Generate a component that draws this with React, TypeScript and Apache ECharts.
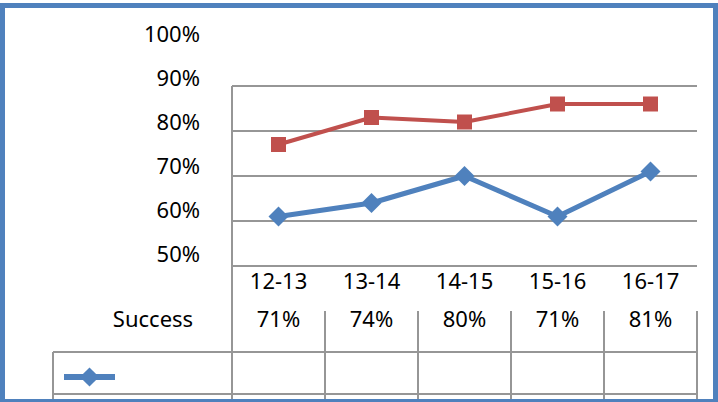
import React, { useEffect, useRef } from "react";
import * as echarts from "echarts";

const categories = ["12-13", "13-14", "14-15", "15-16", "16-17"];
const successValues = [71, 74, 80, 71, 81];
const secondValues = [87, 93, 92, 96, 96];
const labelTicks = { min: 50, max: 100, interval: 10 };
const plotTicks = { min: 60, max: 100, interval: 10 };
const seriesName = "Success";

const FONT = "Noto Sans";
const BLUE = "#4F81BD";
const RED = "#C0504D";
const GRID = "#969696";

export default function App() {
  const ref = useRef<HTMLDivElement>(null);
  useEffect(() => {
    if (!ref.current) return;
    const chart = echarts.init(ref.current, undefined, { renderer: "svg" });
    const textStyle = { fontFamily: FONT, fontSize: 22, color: "#000" };
    chart.setOption({
      animation: false,
      backgroundColor: "#fff",
      textStyle: { fontFamily: FONT },
      grid: [
        { left: 232, top: 86, width: 465, height: 180 },
        { left: 208, top: 33, width: 1, height: 220 },
        { left: 232, top: 311, width: 465, height: 100 },
      ],
      legend: {
        data: [seriesName],
        left: 56,
        top: 360,
        itemWidth: 51,
        itemHeight: 24,
        formatter: () => "",
        textStyle: { fontSize: 1 },
        lineStyle: { width: 6, color: BLUE },
      },
      xAxis: [
        {
          gridIndex: 0,
          type: "category",
          data: categories,
          boundaryGap: true,
          axisLine: { show: false },
          axisTick: { show: false },
          axisLabel: { ...textStyle, margin: 14, verticalAlign: "middle" },
        },
        { gridIndex: 1, type: "value", show: false },
        {
          gridIndex: 2,
          type: "category",
          position: "top",
          data: successValues.map((v) => v + "%"),
          boundaryGap: true,
          axisLine: { show: true, lineStyle: { color: GRID, width: 2 } },
          axisTick: { show: false },
          splitLine: { show: true, lineStyle: { color: GRID, width: 2 } },
          axisLabel: { ...textStyle, inside: true, margin: 7, verticalAlign: "middle" },
        },
      ],
      yAxis: [
        {
          gridIndex: 0,
          type: "value",
          min: plotTicks.min,
          max: plotTicks.max,
          interval: plotTicks.interval,
          axisLabel: { show: false },
          axisLine: { show: false },
          axisTick: { show: false },
          splitLine: { show: true, lineStyle: { color: GRID, width: 2 } },
        },
        {
          gridIndex: 1,
          type: "value",
          min: labelTicks.min,
          max: labelTicks.max,
          interval: labelTicks.interval,
          axisLabel: { ...textStyle, margin: 8, formatter: (v: number) => v + "%" },
          axisLine: { show: false },
          axisTick: { show: false },
          splitLine: { show: false },
        },
        { gridIndex: 2, type: "value", show: false },
      ],
      series: [
        {
          name: seriesName,
          type: "line",
          xAxisIndex: 0,
          yAxisIndex: 0,
          data: successValues,
          symbol: "diamond",
          symbolSize: [20, 20],
          lineStyle: { color: BLUE, width: 5 },
          itemStyle: { color: BLUE },
        },
        {
          name: "Series 2",
          type: "line",
          xAxisIndex: 0,
          yAxisIndex: 0,
          data: secondValues,
          symbol: "rect",
          symbolSize: 15,
          lineStyle: { color: RED, width: 4 },
          itemStyle: { color: RED },
        },
      ],
      graphic: [
        { type: "line", shape: { x1: 232, y1: 86, x2: 232, y2: 402 }, style: { stroke: GRID, lineWidth: 2 } },
        { type: "line", shape: { x1: 53, y1: 352, x2: 697, y2: 352 }, style: { stroke: GRID, lineWidth: 2 } },
        { type: "line", shape: { x1: 53, y1: 394, x2: 697, y2: 394 }, style: { stroke: GRID, lineWidth: 2 } },
        { type: "line", shape: { x1: 53, y1: 352, x2: 53, y2: 402 }, style: { stroke: GRID, lineWidth: 2 } },
        {
          type: "text",
          x: 153,
          y: 318,
          style: {
            text: seriesName,
            fontFamily: FONT,
            fontSize: 22,
            fill: "#000",
            align: "center",
            verticalAlign: "middle",
          },
        },
        {
          type: "rect",
          shape: { x: 2.5, y: 5.5, width: 713, height: 396 },
          style: { fill: "none", stroke: BLUE, lineWidth: 5 },
          z: 100,
        },
      ],
    });
    return () => chart.dispose();
  }, []);
  return (
    <div
      ref={ref}
      style={{ position: "fixed", left: 0, top: 0, width: 718, height: 402 }}
    />
  );
}
